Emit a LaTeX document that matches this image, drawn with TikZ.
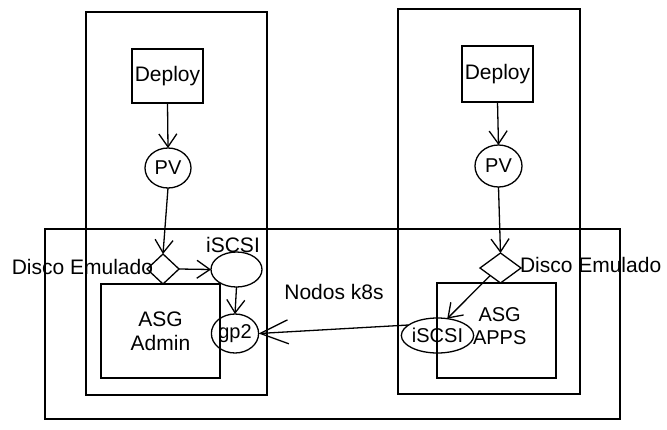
\documentclass[tikz,border=0pt]{standalone}
\usepackage{fontspec}
\setmainfont{Liberation Sans}
\usetikzlibrary{shapes.geometric,arrows.meta}
\begin{document}
\begin{tikzpicture}[x=1pt,y=-1pt,
  line width=1.3pt,
  every node/.style={inner sep=0pt, outer sep=0pt},
  frame/.style={draw, rectangle},
  boxnode/.style={draw, rectangle, align=center, font=\fontsize{21}{24}\selectfont},
  txt/.style={align=center, font=\fontsize{20}{23}\selectfont},
  oval/.style={draw, ellipse, font=\fontsize{20}{23}\selectfont},
  dia/.style={draw, diamond},
  lbl/.style={font=\fontsize{21}{24}\selectfont},
  arr/.style={-{Straight Barb[length=13pt,width=18pt]}},
  bigarr/.style={-{Straight Barb[length=28pt,width=24pt]}}
]
\useasboundingbox (0,0) rectangle (667,429);

% frames
\node[frame, minimum width=181pt, minimum height=383pt] (lcol) at (176.5,203.5) {};
\node[frame, minimum width=182pt, minimum height=385pt] (rcol) at (489,201.5) {};
\node[frame, minimum width=575pt, minimum height=190pt] (nodes) at (332.5,324) {};

% left column
\node[boxnode, minimum width=71pt, minimum height=54pt] (ldeploy) at (167.5,76) {Deploy};
\node[oval, minimum width=46pt, minimum height=40pt] (lpv) at (168,168) {PV};
\node[dia, minimum width=32pt, minimum height=30pt] (ldia) at (163,269) {};
\node[lbl, anchor=east] (ldisco) at (153,267) {Disco Emulado};
\node[oval, minimum width=51pt, minimum height=35pt] (lisc) at (236.5,269.5) {};
\node[lbl] (liscl) at (233,245) {iSCSI};
\node[boxnode, minimum width=119pt, minimum height=94pt] (ladmin) at (160.5,331) {ASG\\Admin};
\node[oval, minimum width=46pt, minimum height=39pt] (gp2) at (235,333.5) {gp2};

% right column
\node[boxnode, minimum width=71pt, minimum height=56pt] (rdeploy) at (497.5,74) {Deploy};
\node[oval, minimum width=47pt, minimum height=42pt] (rpv) at (498.5,166) {PV};
\node[dia, minimum width=41pt, minimum height=30pt] (rdia) at (500.5,268) {};
\node[lbl, anchor=west] (rdisco) at (520,265) {Disco Emulado};
\node[draw, rectangle, minimum width=119pt, minimum height=95pt] (rapps) at (496.5,330.5) {};
\node[txt, anchor=west] (rappst) at (473,326) {ASG\\APPS};
\node[oval, minimum width=51pt, minimum height=35pt] (risc) at (437.5,335.5) {iSCSI};

% middle label
\node[lbl] (nodos) at (334,292) {Nodos k8s};

% connectors
\draw[arr] (ldeploy.south) -- (lpv.north);
\draw[arr] (lpv.south) -- (ldia.north);
\draw[arr] (ldia.east) -- (lisc.west);
\draw[arr] (lisc.south) -- (gp2.north);
\draw[arr] (rdeploy.south) -- (rpv.north);
\draw[arr] (rpv.south) -- (rdia.north);
\draw[arr] (rdia.south west) -- (risc.60);
\draw[bigarr] (risc.160) -- (gp2.east);
\end{tikzpicture}
\end{document}
